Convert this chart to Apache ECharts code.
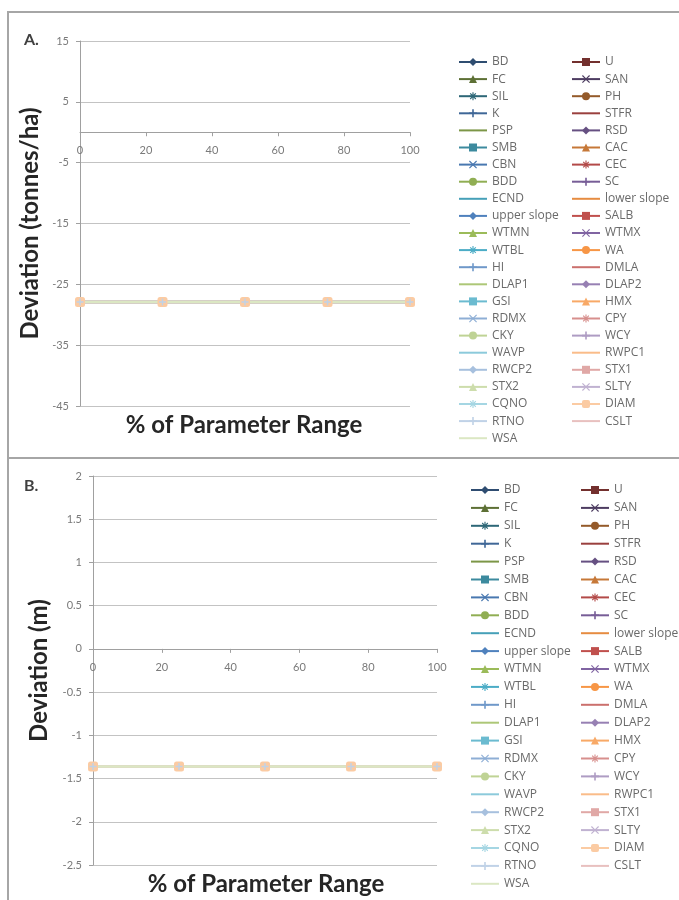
<!DOCTYPE html>
<html>
<head>
<meta charset="utf-8">
<script src="https://cdn.jsdelivr.net/npm/echarts@6/dist/echarts.min.js"></script>
<style>
  html, body { margin: 0; padding: 0; width: 679px; height: 900px; background: #ffffff; overflow: hidden; }
  .panel { position: absolute; border: 2px solid #a6a6a6; box-sizing: border-box; }
  #chart { position: absolute; left: 0; top: 0; width: 679px; height: 900px; }
</style>
</head>
<body>
<div class="panel" style="left:7px; top:11px; width:700px; height:448px;"></div>
<div class="panel" style="left:7px; top:457px; width:700px; height:460px;"></div>
<div id="chart"></div>
<script>
// ---------------- DATA ----------------
// Parameter names as shown in the two legend columns
const legendCol1 = ['BD','FC','SIL','K','PSP','SMB','CBN','BDD','ECND','upper slope','WTMN','WTBL','HI','DLAP1','GSI','RDMX','CKY','WAVP','RWCP2','STX2','CQNO','RTNO','WSA'];
const legendCol2 = ['U','SAN','PH','STFR','RSD','CAC','CEC','SC','lower slope','SALB','WTMX','WA','DMLA','DLAP2','HMX','CPY','WCY','RWPC1','STX1','SLTY','DIAM','CSLT'];
// Series order (row-wise through the legend)
const seriesNames = ['BD','U','FC','SAN','SIL','PH','K','STFR','PSP','RSD','SMB','CAC','CBN','CEC','BDD','SC','ECND','lower slope','upper slope','SALB','WTMN','WTMX','WTBL','WA','HI','DMLA','DLAP1','DLAP2','GSI','HMX','RDMX','CPY','CKY','WCY','WAVP','RWPC1','RWCP2','STX1','STX2','SLTY','CQNO','DIAM','RTNO','CSLT','WSA'];
// x positions: % of parameter range
const pctRange = [0, 25, 50, 75, 100];
// Panel A: deviation (tonnes/ha) – all parameters overlap on the same values
const yieldDeviation = [-27.9, -27.9, -27.9, -27.9, -27.9];
// Panel B: deviation (m) – all parameters overlap on the same values
const depthDeviation = [-1.36, -1.36, -1.36, -1.36, -1.36];
// Tick labels
const yTicksA = [15, 5, -5, -15, -25, -35, -45];
const yTicksB = [2, 1.5, 1, 0.5, 0, -0.5, -1, -1.5, -2, -2.5];

// ---------------- STYLE ----------------
const FONT = 'Lato';
const LFONT = 'Open Sans';
const base = [[79,129,189],[192,80,77],[155,187,89],[128,100,162],[75,172,198],[247,150,70]];
function groupColor(i) {
  const g = Math.floor(i / 6), c = base[i % 6];
  const shade = [0.6, 0.8, 0.93, 1, 1, 1, 1, 1][g];
  const tint = [0, 0, 0, 0, 0.18, 0.36, 0.5, 0.64][g];
  const v = c.map(x => Math.round((x * shade) + (255 - x * shade) * tint));
  return 'rgb(' + v.join(',') + ')';
}
const SYM_X = 'path://M1,0L5,4L9,0L10,1L6,5L10,9L9,10L5,6L1,10L0,9L4,5L0,1Z';
const SYM_PLUS = 'path://M4,0L6,0L6,4L10,4L10,6L6,6L6,10L4,10L4,6L0,6L0,4L4,4Z';
const SYM_STAR = 'path://M4.3,0L5.7,0L5.7,3.3L8,1L9,2L6.7,4.3L10,4.3L10,5.7L6.7,5.7L9,8L8,9L5.7,6.7L5.7,10L4.3,10L4.3,6.7L2,9L1,8L3.3,5.7L0,5.7L0,4.3L3.3,4.3L1,2L2,1L4.3,3.3Z';
const symCycle = ['diamond','rect','triangle',SYM_X,SYM_STAR,'circle',SYM_PLUS,'none','none'];
const symSize = {'diamond':8,'rect':8,'triangle':8,'circle':8,'roundRect':10};

function symbolOf(name) {
  const i = seriesNames.indexOf(name);
  if (name === 'DIAM') return 'roundRect';
  return symCycle[i % 9];
}

function makeSeries(values, axisIdx) {
  return seriesNames.map((name, i) => {
    const sym = symbolOf(name);
    const col = groupColor(i);
    return {
      name: name,
      type: 'line',
      xAxisIndex: axisIdx,
      yAxisIndex: axisIdx,
      data: pctRange.map((x, k) => [x, values[k]]),
      symbol: sym,
      symbolSize: symSize[sym] || 7,
      showSymbol: sym !== 'none',
      color: col,
      lineStyle: { width: 2.5, color: col },
      itemStyle: { color: col },
      emphasis: { disabled: true },
      silent: true
    };
  });
}

const axisGray = '#a0a0a0';
const gridGray = '#c3c3c3';
const labelGray = '#7a7a7a';

const grids = [
  { left: 80, top: 41, width: 330, height: 365 },
  { left: 93, top: 476, width: 344, height: 389 }
];
const yRanges = [[-45, 15], [-2.5, 2]];

function xAxisCfg(gi) {
  // x axis crosses the y axis at 0 (placed through the scale extent)
  const r = yRanges[gi];
  const zeroOffset = -grids[gi].height * (0 - r[0]) / (r[1] - r[0]);
  return {
    type: 'value', gridIndex: gi, min: 0, max: 100, interval: 20,
    position: 'bottom', offset: zeroOffset,
    axisLine: { show: true, onZero: false, lineStyle: { color: axisGray, width: 1 } },
    axisTick: { show: true, length: 4, inside: false, lineStyle: { color: axisGray } },
    axisLabel: { color: labelGray, fontSize: 11, fontFamily: FONT, margin: 13 },
    splitLine: { show: false }
  };
}

function legendData(names) {
  return names.map(n => symbolOf(n) === 'none' ? { name: n, itemStyle: { opacity: 0 } } : { name: n });
}

const legendCommon = {
  orient: 'vertical', selectedMode: false, itemWidth: 28, itemHeight: 10, padding: 0,
  height: 430,
  textStyle: { color: '#6a6a6a', fontSize: 12, fontFamily: LFONT, lineHeight: 12 }
};

const chart = echarts.init(document.getElementById('chart'), null, { renderer: 'canvas' });
const option = {
  animation: false,
  backgroundColor: 'transparent',
  textStyle: { fontFamily: FONT },
  grid: grids.map(g => Object.assign({ containLabel: false }, g)),
  xAxis: [ xAxisCfg(0), xAxisCfg(1) ],
  yAxis: [
    {
      type: 'value', gridIndex: 0, min: yRanges[0][0], max: yRanges[0][1],
      name: 'Deviation (tonnes/ha)', nameLocation: 'middle', nameGap: 38, nameRotate: 90,
      nameTextStyle: { fontSize: 24, fontWeight: 'bold', color: '#262626', fontFamily: FONT },
      axisLine: { show: true, onZero: false, lineStyle: { color: axisGray } },
      axisTick: { show: true, length: 4, lineStyle: { color: axisGray }, customValues: yTicksA },
      axisLabel: { color: labelGray, fontSize: 11, fontFamily: FONT, margin: 11, customValues: yTicksA },
      splitLine: { show: true, lineStyle: { color: gridGray, width: 1 } }
    },
    {
      type: 'value', gridIndex: 1, min: yRanges[1][0], max: yRanges[1][1], interval: 0.5,
      name: 'Deviation (m)', nameLocation: 'middle', nameGap: 42, nameRotate: 90,
      nameTextStyle: { fontSize: 24, fontWeight: 'bold', color: '#262626', fontFamily: FONT },
      axisLine: { show: true, onZero: false, lineStyle: { color: axisGray } },
      axisTick: { show: true, length: 4, lineStyle: { color: axisGray }, customValues: yTicksB },
      axisLabel: { color: labelGray, fontSize: 11, fontFamily: FONT, margin: 11, customValues: yTicksB },
      splitLine: { show: true, lineStyle: { color: gridGray, width: 1 } }
    }
  ],
  legend: [
    Object.assign({}, legendCommon, { left: 458, top: 56, itemGap: 5.1, data: legendData(legendCol1) }),
    Object.assign({}, legendCommon, { left: 571, top: 56, itemGap: 5.1, data: legendData(legendCol2) }),
    Object.assign({}, legendCommon, { left: 470, top: 484, itemGap: 5.9, data: legendData(legendCol1) }),
    Object.assign({}, legendCommon, { left: 580, top: 484, itemGap: 5.9, data: legendData(legendCol2) })
  ],
  graphic: [
    { type: 'text', left: 24, top: 32, style: { text: 'A.', font: 'bold 16px ' + FONT, fill: '#404040' } },
    { type: 'text', left: 24, top: 478, style: { text: 'B.', font: 'bold 16px ' + FONT, fill: '#404040' } },
    { type: 'text', x: 244, y: 425, style: { text: '% of Parameter Range', font: 'bold 24px ' + FONT, fill: '#262626', align: 'center', verticalAlign: 'middle' } },
    { type: 'text', x: 266, y: 884, style: { text: '% of Parameter Range', font: 'bold 24px ' + FONT, fill: '#262626', align: 'center', verticalAlign: 'middle' } }
  ],
  series: makeSeries(yieldDeviation, 0).concat(makeSeries(depthDeviation, 1))
};
chart.setOption(option);
</script>
</body>
</html>
